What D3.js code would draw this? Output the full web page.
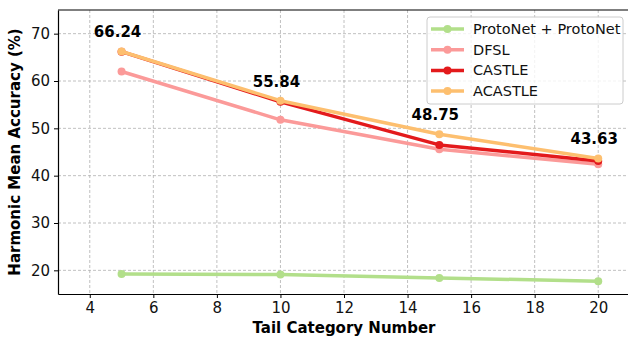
<!DOCTYPE html>
<html lang="en">
<head>
    <meta charset="UTF-8">
    <title>Harmonic Mean Accuracy</title>
    <script src="https://d3js.org/d3.v7.min.js"></script>
    <style>
        body { margin: 0; background: #fff; }
        svg { display: block; font-family: "DejaVu Sans", sans-serif; }
    </style>
</head>
<body>
    <div id="chart-container"></div>

    <script>
        // Data
        const tailCounts = [5, 10, 15, 20];
        const protoNet = [19.2, 19.1, 18.4, 17.7];
        const dfsl = [62.0, 51.8, 45.6, 42.4];
        const castle = [66.2, 55.6, 46.5, 43.1];
        const acastle = [66.24, 55.84, 48.75, 43.63];
        const xTicks = [4, 6, 8, 10, 12, 14, 16, 18, 20];
        const yTicks = [20, 30, 40, 50, 60, 70];

        const series = [
            { name: "ProtoNet + ProtoNet", values: protoNet, color: "#b2df8a" },
            { name: "DFSL", values: dfsl, color: "#fb9a99" },
            { name: "CASTLE", values: castle, color: "#e31a1c" },
            { name: "ACASTLE", values: acastle, color: "#fdbf6f" }
        ];

        const W = 628, H = 339;
        const margin = { top: 10, right: -2, bottom: 45, left: 58 };
        const width = W - margin.left - margin.right;
        const height = H - margin.top - margin.bottom;

        const svg = d3.select("#chart-container")
            .append("svg")
            .attr("width", W)
            .attr("height", H);

        const g = svg.append("g")
            .attr("transform", `translate(${margin.left}, ${margin.top})`);

        const x = d3.scaleLinear().domain([3, 21]).range([0, width]);
        const y = d3.scaleLinear().domain([15, 75]).range([height, 0]);

        // grid
        g.append("g").selectAll("line")
            .data(xTicks).enter().append("line")
            .attr("x1", d => x(d)).attr("x2", d => x(d))
            .attr("y1", 0).attr("y2", height)
            .attr("stroke", "#b0b0b0").attr("stroke-width", 0.8)
            .attr("stroke-dasharray", "3,2");
        g.append("g").selectAll("line")
            .data(yTicks).enter().append("line")
            .attr("x1", 0).attr("x2", width)
            .attr("y1", d => y(d)).attr("y2", d => y(d))
            .attr("stroke", "#b0b0b0").attr("stroke-width", 0.8)
            .attr("stroke-dasharray", "3,2");

        // axes
        const xAxis = g.append("g")
            .attr("transform", `translate(0, ${height})`)
            .call(d3.axisBottom(x).tickValues(xTicks).tickSize(4).tickPadding(4).tickSizeOuter(0));
        const yAxis = g.append("g")
            .call(d3.axisLeft(y).tickValues(yTicks).tickSize(4).tickPadding(4).tickSizeOuter(0));
        [xAxis, yAxis].forEach(a => {
            a.selectAll("text").attr("font-size", 15).attr("fill", "#111")
                .attr("font-family", "DejaVu Sans");
            a.select(".domain").attr("stroke", "#000").attr("stroke-width", 1.2);
            a.selectAll(".tick line").attr("stroke", "#000").attr("stroke-width", 1);
        });
        // top spine
        g.append("line")
            .attr("x1", 0).attr("x2", width).attr("y1", 0).attr("y2", 0)
            .attr("stroke", "#000").attr("stroke-width", 1.2);

        // axis labels
        svg.append("text")
            .attr("x", margin.left + width / 2).attr("y", 333)
            .attr("text-anchor", "middle")
            .attr("font-size", 15).attr("font-weight", "bold")
            .text("Tail Category Number");
        svg.append("text")
            .attr("transform", `translate(20, ${margin.top + height / 2}) rotate(-90)`)
            .attr("text-anchor", "middle")
            .attr("font-size", 15).attr("font-weight", "bold")
            .text("Harmonic Mean Accuracy (%)");

        // lines
        const line = d3.line()
            .x((d, i) => x(tailCounts[i]))
            .y(d => y(d));

        series.forEach(s => {
            g.append("path")
                .datum(s.values)
                .attr("fill", "none")
                .attr("stroke", s.color)
                .attr("stroke-width", 3.5)
                .attr("stroke-linejoin", "round")
                .attr("d", line);
            g.selectAll(null)
                .data(s.values).enter().append("circle")
                .attr("cx", (d, i) => x(tailCounts[i]))
                .attr("cy", d => y(d))
                .attr("r", 4)
                .attr("fill", s.color);
        });

        // annotations for ACASTLE
        g.selectAll(null)
            .data(acastle).enter().append("text")
            .attr("x", (d, i) => x(tailCounts[i]) - 4)
            .attr("y", d => y(d) - 14)
            .attr("text-anchor", "middle")
            .attr("font-size", 15).attr("font-weight", "bold")
            .text(d => d.toFixed(2));

        // legend
        const lg = svg.append("g").attr("transform", "translate(427, 17)");
        lg.append("rect")
            .attr("width", 196).attr("height", 87)
            .attr("rx", 3)
            .attr("fill", "#fff").attr("fill-opacity", 0.8)
            .attr("stroke", "#ccc").attr("stroke-width", 1);
        series.forEach((s, i) => {
            const row = lg.append("g").attr("transform", `translate(0, ${12 + i * 20.7})`);
            row.append("line")
                .attr("x1", 4).attr("x2", 37).attr("y1", 0).attr("y2", 0)
                .attr("stroke", s.color).attr("stroke-width", 3.5);
            row.append("circle").attr("cx", 20.5).attr("cy", 0).attr("r", 4).attr("fill", s.color);
            row.append("text")
                .attr("x", 46).attr("y", 5)
                .attr("font-size", 14.5).attr("fill", "#111")
                .text(s.name);
        });
    </script>
</body>
</html>
